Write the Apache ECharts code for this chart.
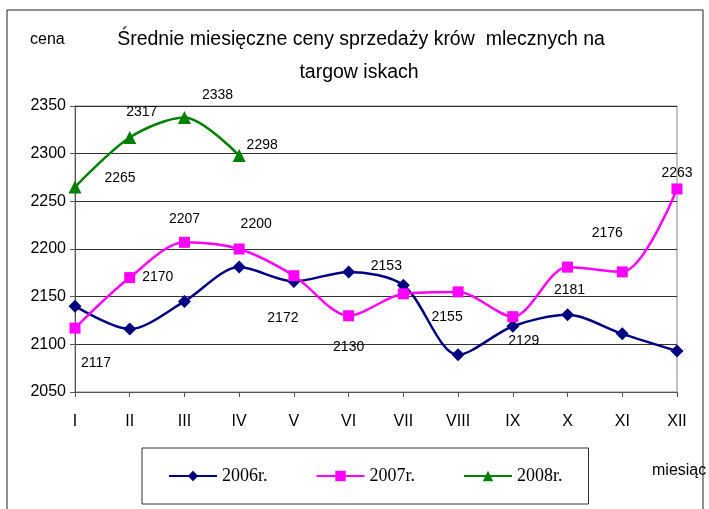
<!DOCTYPE html>
<html>
<head>
<meta charset="utf-8">
<script src="https://cdn.jsdelivr.net/npm/echarts@6/dist/echarts.min.js"></script>
<style>
  html, body { margin: 0; padding: 0; background: #fff; }
  #chart { width: 709px; height: 509px; }
</style>
</head>
<body>
<div id="chart"></div>
<script>
// months on the x axis
const months = ['I', 'II', 'III', 'IV', 'V', 'VI', 'VII', 'VIII', 'IX', 'X', 'XI', 'XII'];
const seriesNames = ['2006r.', '2007r.', '2008r.'];

// prices
const prices2006 = [2140, 2116, 2145, 2181, 2166, 2176, 2162, 2089, 2119, 2131, 2111, 2093];
const prices2007 = [2117, 2170, 2207, 2200, 2172, 2130, 2153, 2155, 2129, 2181, 2176, 2263];
const prices2008 = [2265, 2317, 2338, 2298];

const yTicks = [2050, 2100, 2150, 2200, 2250, 2300, 2350];

// where Excel put the data labels (pixels from the point)
const offsets2007 = [[21, 35], [28, 0], [0, -23], [17, -25], [-11, 42], [0, 31],
                     [-17, -28], [-11, 25], [11, 24], [2, 23], [-15, -39], [0, -16]];
const offsets2008 = [[45, -9], [12, -25], [33, -22], [23, -10]];

const sans = 'Liberation Sans, Arial, sans-serif';
const labelFont = {color: '#000', fontFamily: sans, fontSize: 14};

function withLabels(values, offsets) {
    return values.map((v, i) => ({
        value: v,
        label: {
            show: true,
            position: 'inside',
            offset: offsets[i],
            formatter: '{c}',
            ...labelFont
        }
    }));
}

const chart = echarts.init(document.getElementById('chart'));

chart.setOption({
    animation: false,
    backgroundColor: '#fff',
    grid: {
        left: 75,
        top: 106,
        right: 32,
        bottom: 117,
        show: true,
        borderColor: '#888',
        borderWidth: 1
    },
    graphic: [
        {
            type: 'rect',
            shape: {x: 7, y: 10, width: 696, height: 520},
            style: {fill: 'none', stroke: '#222', lineWidth: 1},
            silent: true
        },
        {
            type: 'text',
            style: {
                text: 'Średnie miesięczne ceny sprzedaży krów  mlecznych na',
                x: 361, y: 40, textAlign: 'center', textVerticalAlign: 'middle',
                font: '19.5px "Liberation Sans", Arial, sans-serif', fill: '#000'
            }
        },
        {
            type: 'text',
            style: {
                text: 'targow iskach',
                x: 359, y: 73, textAlign: 'center', textVerticalAlign: 'middle',
                font: '19.5px "Liberation Sans", Arial, sans-serif', fill: '#000'
            }
        },
        {
            type: 'text',
            style: {
                text: 'cena', x: 30, y: 40, textVerticalAlign: 'middle',
                font: '16px "Liberation Sans", Arial, sans-serif', fill: '#000'
            }
        },
        {
            type: 'text',
            style: {
                text: 'miesiąc', x: 652, y: 471, textVerticalAlign: 'middle',
                font: '16px "Liberation Sans", Arial, sans-serif', fill: '#000'
            }
        }
    ],
    legend: {
        data: seriesNames,
        left: 142,
        top: 448,
        orient: 'horizontal',
        padding: [19, 26, 19, 26],
        itemGap: 48,
        itemWidth: 48,
        itemHeight: 13,
        borderColor: '#333',
        borderWidth: 1,
        textStyle: {
            color: '#000',
            fontFamily: 'Liberation Serif, Times New Roman, serif',
            fontSize: 18
        }
    },
    xAxis: {
        type: 'category',
        data: months,
        boundaryGap: false,
        axisLine: {lineStyle: {color: '#555', width: 1}},
        axisTick: {show: true, length: 5, alignWithLabel: true, lineStyle: {color: '#555'}},
        axisLabel: {
            color: '#000',
            fontFamily: sans,
            fontSize: 16,
            margin: 22
        },
        splitLine: {show: false}
    },
    yAxis: {
        type: 'value',
        min: yTicks[0],
        max: yTicks[yTicks.length - 1],
        interval: 50,
        axisLine: {show: true, lineStyle: {color: '#555', width: 1}},
        axisTick: {show: true, length: 5, lineStyle: {color: '#555'}},
        axisLabel: {
            color: '#000',
            fontFamily: sans,
            fontSize: 16,
            margin: 9,
            formatter: v => String(v)
        },
        splitLine: {show: true, lineStyle: {color: '#333', width: 1}}
    },
    series: [
        {
            name: seriesNames[0],
            type: 'line',
            data: prices2006,
            smooth: 0.3,
            symbol: 'diamond',
            symbolSize: 13,
            color: '#000080',
            lineStyle: {width: 2.5, color: '#000080'},
            itemStyle: {color: '#000080'}
        },
        {
            name: seriesNames[1],
            type: 'line',
            data: withLabels(prices2007, offsets2007),
            smooth: 0.3,
            symbol: 'rect',
            symbolSize: 11,
            color: '#ff00ff',
            lineStyle: {width: 2.5, color: '#ff00ff'},
            itemStyle: {color: '#ff00ff'}
        },
        {
            name: seriesNames[2],
            type: 'line',
            data: withLabels(prices2008, offsets2008),
            smooth: 0.3,
            symbol: 'triangle',
            symbolSize: 13,
            color: '#008000',
            lineStyle: {width: 2.5, color: '#008000'},
            itemStyle: {color: '#008000'}
        }
    ]
});
</script>
</body>
</html>
